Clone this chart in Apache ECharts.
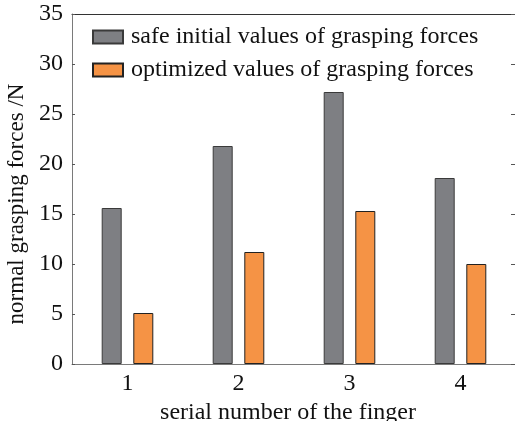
<!DOCTYPE html>
<html>
<head>
<meta charset="utf-8">
<script src="https://cdn.jsdelivr.net/npm/echarts@6/dist/echarts.min.js"></script>
<style>
  html, body { margin: 0; padding: 0; background: #fff; }
  #chart { width: 515px; height: 421px; }
</style>
</head>
<body>
<div id="chart"></div>
<script>
// Finger indices and the two sets of normal grasping forces (N)
const fingers = ['1', '2', '3', '4'];
const safeInitial = [15.6, 21.8, 27.2, 18.6];
const optimized = [5.1, 11.2, 15.3, 10.0];
const seriesNames = ['safe initial values of grasping forces', 'optimized values of grasping forces'];

const FONT = "'Times New Roman', 'Liberation Serif', Tinos, serif";
const AXIS_GRAY = '#7a7a7a';
const TEXT = '#111';

const chart = echarts.init(document.getElementById('chart'), null, { renderer: 'canvas' });

chart.setOption({
  animation: false,
  backgroundColor: '#fff',
  textStyle: { fontFamily: FONT },
  grid: { left: 72, top: 14, width: 444, height: 350, containLabel: false, outerBoundsMode: 'none' },
  legend: {
    orient: 'vertical',
    left: 92,
    top: 25,
    padding: 0,
    itemWidth: 30,
    itemHeight: 13,
    itemGap: 9,
    icon: 'rect',
    selectedMode: false,
    textStyle: { fontFamily: FONT, fontSize: 24, color: TEXT, padding: [0, 0, 0, 3] },
    data: seriesNames
  },
  xAxis: [
    {
      type: 'category',
      data: fingers,
      position: 'bottom',
      name: 'serial number of the finger',
      nameLocation: 'middle',
      nameGap: 32,
      nameTextStyle: { fontFamily: FONT, fontSize: 24, color: TEXT, padding: [0, 12, 0, 0] },
      axisLine: { onZero: false, lineStyle: { color: AXIS_GRAY, width: 1 } },
      axisTick: { inside: true, alignWithLabel: true, length: 5, lineStyle: { color: '#333' } },
      axisLabel: { fontFamily: FONT, fontSize: 24, color: TEXT, margin: 8 },
      splitLine: { show: false }
    },
    {
      type: 'category',
      data: fingers,
      position: 'top',
      axisLine: { onZero: false, lineStyle: { color: '#333', width: 1 } },
      axisTick: { inside: true, alignWithLabel: true, length: 4, lineStyle: { color: '#333' } },
      axisLabel: { show: false },
      splitLine: { show: false }
    }
  ],
  yAxis: [
    {
      type: 'value',
      min: 0,
      max: 35,
      interval: 5,
      position: 'left',
      name: 'normal grasping forces /N',
      nameLocation: 'middle',
      nameGap: 41,
      nameTextStyle: { fontFamily: FONT, fontSize: 23, color: TEXT, padding: [0, 30, 0, 0] },
      axisLine: { show: true, onZero: false, lineStyle: { color: AXIS_GRAY, width: 1 } },
      axisTick: { show: true, inside: true, length: 3, lineStyle: { color: '#555' } },
      axisLabel: { fontFamily: FONT, fontSize: 24, color: TEXT, margin: 9 },
      splitLine: { show: false }
    },
    {
      type: 'value',
      min: 0,
      max: 35,
      interval: 5,
      position: 'right',
      axisLine: { show: true, onZero: false, lineStyle: { color: AXIS_GRAY, width: 1 } },
      axisTick: { show: true, inside: true, length: 5, lineStyle: { color: '#555' } },
      axisLabel: { show: false },
      splitLine: { show: false }
    }
  ],
  series: [
    {
      name: seriesNames[0],
      type: 'bar',
      xAxisIndex: 0,
      yAxisIndex: 0,
      data: safeInitial,
      barWidth: 20,
      barGap: '58%',
      itemStyle: { color: '#7e7f83', borderColor: '#3a3a3a', borderWidth: 1 }
    },
    {
      name: seriesNames[1],
      type: 'bar',
      xAxisIndex: 0,
      yAxisIndex: 0,
      data: optimized,
      barWidth: 20,
      barGap: '58%',
      itemStyle: { color: '#f59345', borderColor: '#222', borderWidth: 1 }
    }
  ]
});
</script>
</body>
</html>
